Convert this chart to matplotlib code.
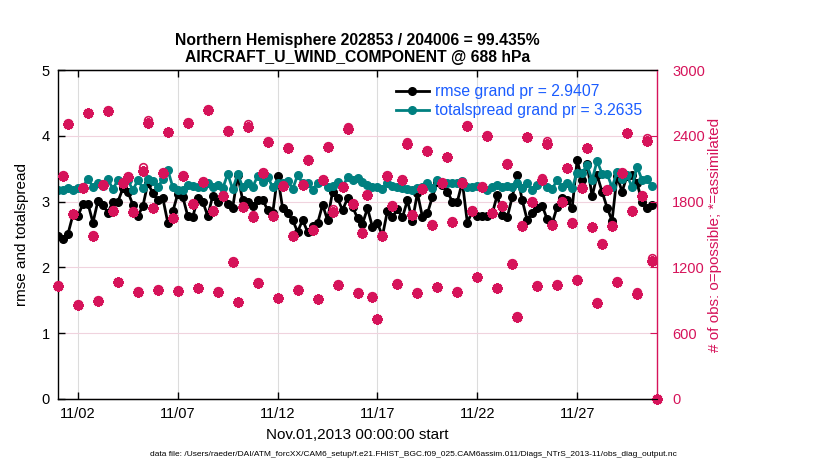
import matplotlib
matplotlib.use("Agg")
import matplotlib.pyplot as plt
import matplotlib.dates as mdates
import numpy as np
import pandas as pd

plt.rcParams['font.family'] = ['Liberation Sans', 'DejaVu Sans']

# ---------------- data ----------------
# 6-hourly bins, Nov 1 00Z .. Dec 1 00Z
times = pd.date_range("2013-11-01 00:00", "2013-12-01 00:00", freq="6h")

rmse = [2.48, 2.43, 2.51, 2.80, 2.78, 2.97, 2.97, 2.68, 3.01, 2.95,
        2.83, 3.00, 3.00, 3.20, 3.15, 2.95, 2.78, 2.93, 3.28, 3.13,
        3.02, 3.05, 2.68, 2.85, 3.12, 3.07, 2.78, 2.77, 3.05, 3.00,
        2.78, 3.09, 3.00, 3.10, 2.97, 2.91, 3.40, 3.02, 3.00, 2.93,
        3.02, 3.03, 2.87, 2.82, 3.39, 2.90, 2.82, 2.72, 2.54, 2.72,
        2.54, 2.63, 2.67, 2.95, 2.72, 3.15, 3.05, 2.87, 3.05, 2.92,
        2.75, 2.66, 2.90, 2.61, 2.67, 2.48, 2.86, 2.77, 2.88, 2.76,
        3.02, 2.71, 3.13, 2.77, 2.82, 3.07, 3.30, 3.25, 3.15, 3.00,
        3.00, 3.30, 2.68, 2.85, 2.78, 2.78, 2.78, 2.82, 3.10, 2.80,
        2.76, 3.07, 3.40, 3.02, 2.72, 2.82, 2.91, 2.94, 2.73, 2.67,
        2.92, 3.05, 3.03, 2.90, 3.63, 3.33, 3.57, 3.08, 3.40, 3.15,
        2.91, 2.71, 3.39, 3.15, 3.39, 3.40, 3.28, 3.00, 2.90, 2.95,
        np.nan]

spread = [3.18, 3.17, 3.20, 3.17, 3.20, 3.22, 3.35, 3.22, 3.29, 3.24,
          3.34, 3.19, 3.33, 3.30, 3.33, 3.17, 3.33, 3.20, 3.34, 3.32,
          3.22, 3.34, 3.48, 3.22, 3.18, 3.18, 3.25, 3.23, 3.22, 3.22,
          3.28, 3.22, 3.25, 3.20, 3.42, 3.19, 3.42, 3.22, 3.29, 3.22,
          3.39, 3.30, 3.38, 3.22, 3.28, 3.28, 3.32, 3.19, 3.40, 3.28,
          3.28, 3.18, 3.28, 3.32, 3.22, 3.24, 3.30, 3.22, 3.37, 3.33,
          3.36, 3.30, 3.25, 3.22, 3.22, 3.19, 3.28, 3.24, 3.22, 3.20,
          3.19, 3.17, 3.20, 3.22, 3.29, 3.20, 3.33, 3.29, 3.28, 3.29,
          3.29, 3.32, 3.22, 3.22, 3.24, 3.22, 3.18, 3.22, 3.25, 3.22,
          3.23, 3.22, 3.28, 3.20, 3.29, 3.18, 3.25, 3.32, 3.22, 3.19,
          3.33, 3.22, 3.28, 3.20, 3.44, 3.44, 3.55, 3.33, 3.62, 3.42,
          3.42, 3.22, 3.45, 3.35, 3.40, 3.22, 3.53, 3.33, 3.34, 3.24,
          np.nan]

n_used = [1030, 2034, 2508, 1684, 857, 1921, 2605, 1486, 894, 1951,
          2629, 1714, 1064, 1967, 2021, 1708, 979, 2082, 2514, 1739,
          994, 2064, 2432, 1648, 985, 2034, 2520, 1778, 1009, 1982,
          2635, 1717, 979, 1851, 2444, 1252, 882, 1748, 2483, 1657,
          1061, 2064, 2347, 1669, 918, 1942, 2292, 1486, 994, 1951,
          2179, 1541, 909, 1997, 2301, 1708, 1040, 1930, 2459, 1778,
          969, 1517, 1860, 933, 727, 1486, 2034, 1760, 1049, 1997,
          2322, 1678, 969, 1912, 2265, 1587, 1018, 1967, 2204, 1617,
          979, 1973, 2489, 1717, 1110, 1930, 2398, 1693, 1009, 1760,
          2143, 1235, 751, 1578, 2386, 1799, 1030, 1997, 2325, 1587,
          1040, 1799, 2103, 1608, 1085, 1921, 2286, 1566, 878, 1413,
          1906, 1578, 1070, 2058, 2423, 1717, 958, 1851, 2356, 1261,
          0]

# obs rejected (possible - assimilated)
n_rejected = [6, 8, 6, 7, 5, 8, 7, 6, 5, 8,
              7, 6, 5, 8, 9, 6, 5, 30, 28, 7,
              5, 8, 7, 6, 5, 8, 7, 6, 5, 8,
              7, 6, 5, 8, 7, 6, 5, 8, 25, 22,
              5, 8, 7, 6, 5, 8, 7, 6, 5, 8,
              7, 6, 5, 8, 7, 22, 5, 8, 25, 6,
              5, 8, 7, 6, 5, 8, 7, 6, 5, 8,
              22, 6, 5, 8, 7, 6, 5, 8, 7, 6,
              5, 8, 7, 6, 5, 8, 7, 6, 5, 8,
              7, 6, 5, 8, 7, 6, 5, 22, 25, 6,
              5, 8, 7, 6, 5, 8, 7, 6, 5, 8,
              7, 6, 5, 8, 7, 6, 22, 8, 25, 25,
              0]

n_possible = [u + r for u, r in zip(n_used, n_rejected)]

rmse_grand = 2.9407
spread_grand = 3.2635
tick_days = [2, 7, 12, 17, 22, 27]

pink = '#D6135A'
teal = '#008080'
blue = '#1A5CFF'

fig = plt.figure(figsize=(8.3, 4.7), dpi=100)
ax = fig.add_axes([58 / 830, 71 / 470, 599 / 830, 329 / 470])

l1, = ax.plot(times, rmse, '-o', color='black', lw=2.0, ms=5.5, mfc='black', mec='black')
l2, = ax.plot(times, spread, '-o', color=teal, lw=2.0, ms=5.5, mfc=teal, mec=teal)

ax.set_xlim(times[0], times[-1])
ax.set_ylim(0, 5)
ax.set_yticks([0, 1, 2, 3, 4, 5])
ax.xaxis.set_major_locator(mdates.DayLocator(bymonthday=tick_days))
ax.xaxis.set_major_formatter(mdates.DateFormatter('%m/%d'))
ax.tick_params(axis='both', direction='in', length=5, width=1, labelsize=10.5,
               top=True, right=False)
ax.tick_params(axis='x', pad=6)
ax.tick_params(axis='y', pad=6)
ax.grid(axis='x', color='#dcdcdc', lw=0.8)
ax.grid(axis='y', color='#f0d3de', lw=0.8)
ax.set_axisbelow(True)
ax.spines['right'].set_visible(False)
for s in ['left', 'top', 'bottom']:
    ax.spines[s].set_linewidth(1.0)
ax.set_ylabel('rmse and totalspread', fontsize=11, labelpad=9)
ax.set_xlabel('Nov.01,2013 00:00:00 start', fontsize=11, labelpad=5)
ax.set_title('Northern Hemisphere 202853 / 204006 = 99.435%\n'
             'AIRCRAFT_U_WIND_COMPONENT @ 688 hPa',
             fontsize=11.3, fontweight='bold', pad=6, linespacing=1.15)

leg = ax.legend([l1, l2],
                ['rmse grand pr = %.4f' % rmse_grand,
                 'totalspread grand pr = %.4f' % spread_grand],
                loc='upper left', bbox_to_anchor=(0.54, 1.0), frameon=False,
                fontsize=11.3, handlelength=2.1, handletextpad=0.4,
                labelspacing=0.25, numpoints=1)
for t in leg.get_texts():
    t.set_color(blue)

ax2 = ax.twinx()
ax2.plot(times, n_possible, 'o', color=pink, ms=5.5, mfc='none', mew=1.2)
ax2.plot(times, n_used, linestyle='none', marker=(8, 2, 0), color=pink, ms=7.5, mew=2.2)
ax2.plot(times, n_used, 'D', color=pink, ms=4, mew=0)
ax2.set_ylim(0, 3000)
ax2.set_yticks([0, 600, 1200, 1800, 2400, 3000])
ax2.tick_params(axis='y', direction='in', length=5, colors=pink, labelsize=10.5, pad=11)
ax2.spines['right'].set_color(pink)
ax2.spines['right'].set_linewidth(1.0)
ax2.spines['left'].set_visible(False)
ax2.set_ylabel('# of obs: o=possible; *=assimilated', color=pink, fontsize=11, labelpad=2)
for c in ax2.lines:
    c.set_clip_on(False)

fig.text(0.498, 0.032,
         'data file: /Users/raeder/DAI/ATM_forcXX/CAM6_setup/f.e21.FHIST_BGC.f09_025.'
         'CAM6assim.011/Diags_NTrS_2013-11/obs_diag_output.nc',
         ha='center', va='center', fontsize=6)

fig.savefig('out.png', dpi=100)
